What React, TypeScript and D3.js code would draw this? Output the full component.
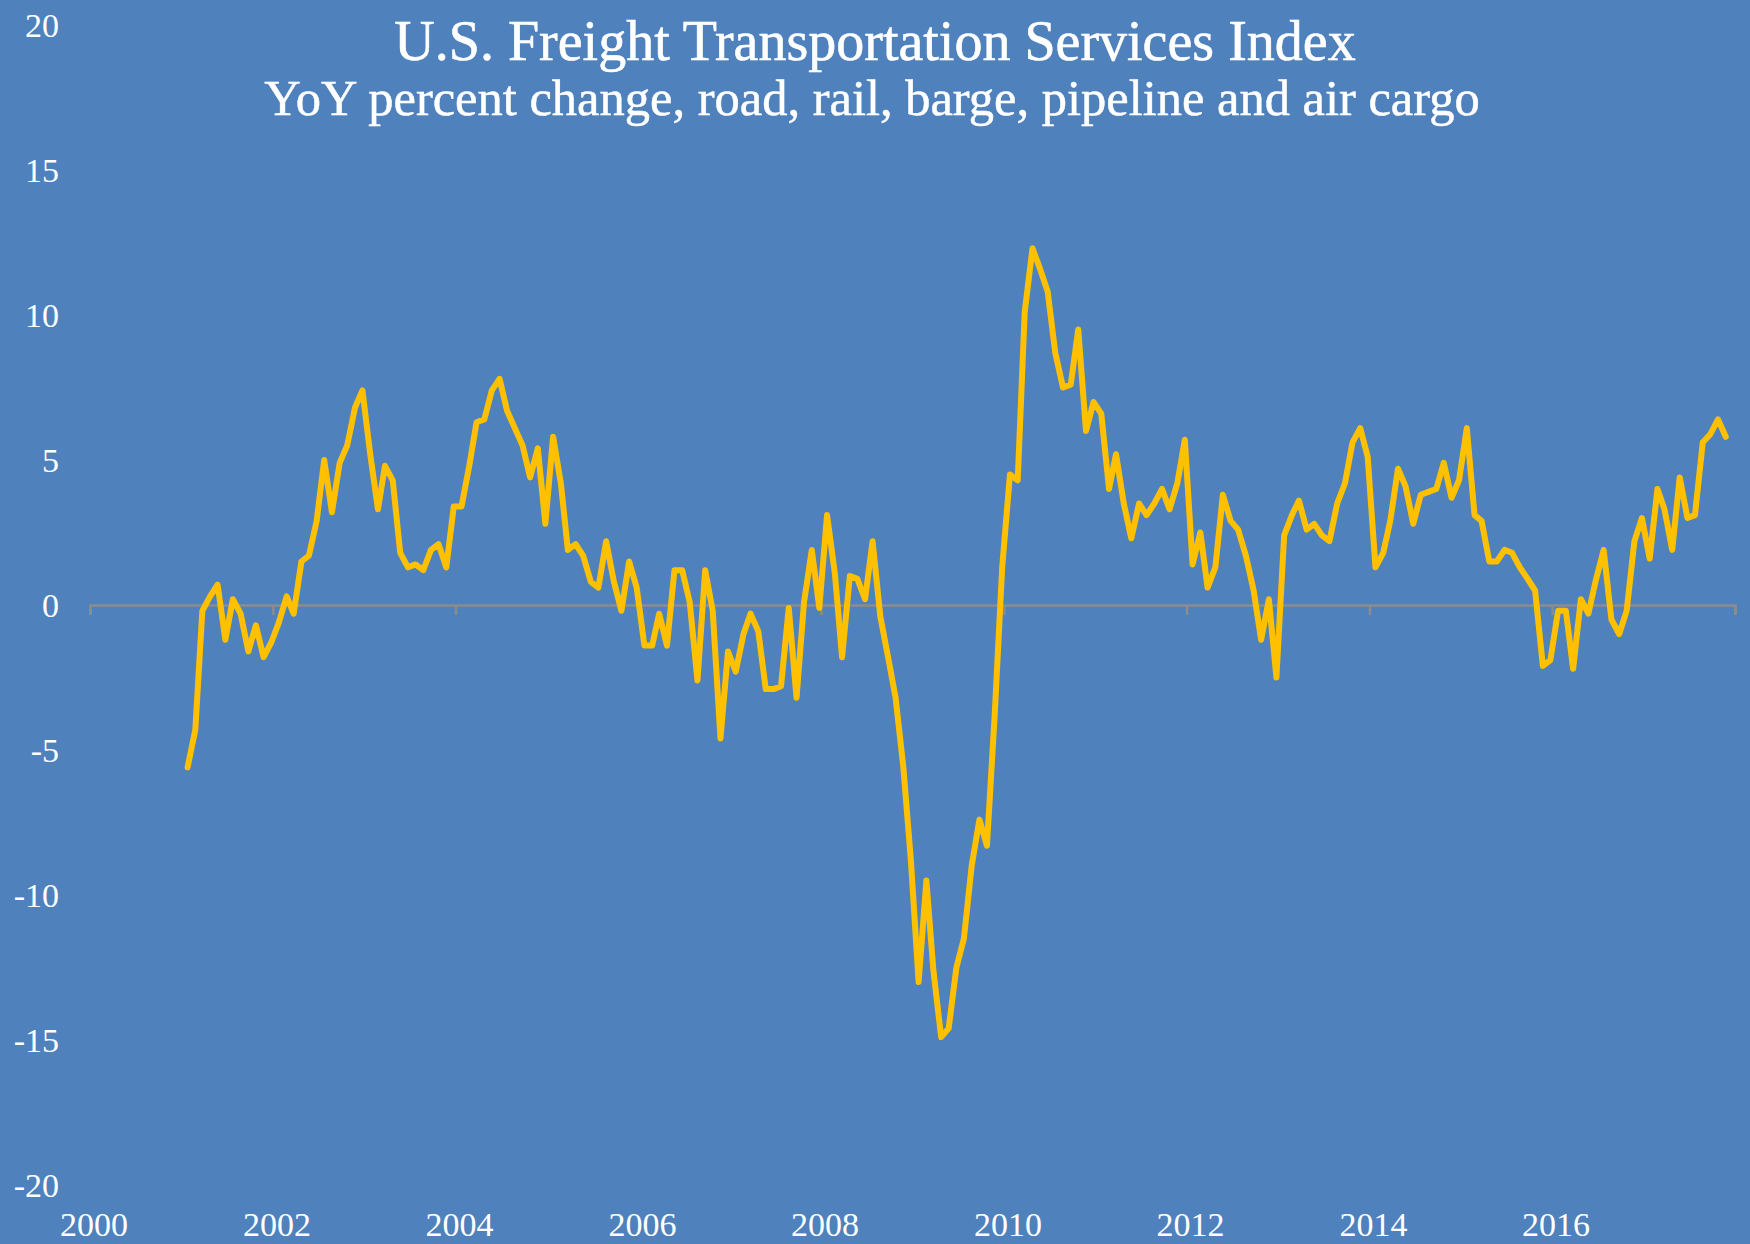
import React, { useEffect, useRef } from 'react';
import * as d3 from 'd3';

// monthly YoY % change, Jan 2001 - Nov 2017
const yoy2001 = [-5.6, -4.3, -0.2, 0.3, 0.7, -1.2, 0.2, -0.3, -1.6, -0.7, -1.8, -1.3];
const yoy2002 = [-0.6, 0.3, -0.3, 1.5, 1.7, 2.9, 5.0, 3.2, 4.9, 5.5, 6.8, 7.4];
const yoy2003 = [5.2, 3.3, 4.8, 4.3, 1.8, 1.3, 1.4, 1.2, 1.9, 2.1, 1.3, 3.4];
const yoy2004 = [3.4, 4.8, 6.3, 6.4, 7.4, 7.8, 6.7, 6.1, 5.5, 4.4, 5.4, 2.8];
const yoy2005 = [5.8, 4.2, 1.9, 2.1, 1.7, 0.8, 0.6, 2.2, 0.8, -0.2, 1.5, 0.6];
const yoy2006 = [-1.4, -1.4, -0.3, -1.4, 1.2, 1.2, 0.1, -2.6, 1.2, -0.2, -4.6, -1.6];
const yoy2007 = [-2.3, -1.0, -0.3, -0.9, -2.9, -2.9, -2.8, -0.1, -3.2, 0.1, 1.9, -0.1];
const yoy2008 = [3.1, 1.1, -1.8, 1.0, 0.9, 0.2, 2.2, -0.4, -1.8, -3.2, -5.6, -8.8];
const yoy2009 = [-13.0, -9.5, -12.6, -14.9, -14.6, -12.5, -11.5, -9.0, -7.4, -8.3, -3.8, 1.3];
const yoy2010 = [4.5, 4.3, 10.1, 12.3, 11.6, 10.8, 8.7, 7.5, 7.6, 9.5, 6.0, 7.0];
const yoy2011 = [6.6, 4.0, 5.2, 3.5, 2.3, 3.5, 3.1, 3.5, 4.0, 3.3, 4.2, 5.7];
const yoy2012 = [1.4, 2.5, 0.6, 1.3, 3.8, 2.9, 2.6, 1.7, 0.5, -1.2, 0.2, -2.5];
const yoy2013 = [2.4, 3.1, 3.6, 2.6, 2.8, 2.4, 2.2, 3.5, 4.2, 5.6, 6.1, 5.1];
const yoy2014 = [1.3, 1.8, 2.9, 4.7, 4.1, 2.8, 3.8, 3.9, 4.0, 4.9, 3.7, 4.3];
const yoy2015 = [6.1, 3.1, 2.9, 1.5, 1.5, 1.9, 1.8, 1.3, 0.9, 0.5, -2.1, -1.9];
const yoy2016 = [-0.2, -0.2, -2.2, 0.2, -0.3, 0.9, 1.9, -0.5, -1.0, -0.2, 2.2, 3.0];
const yoy2017 = [1.6, 4.0, 3.3, 1.9, 4.4, 3.0, 3.1, 5.6, 5.9, 6.4, 5.8];

const dataYears = [2001, 2002, 2003, 2004, 2005, 2006, 2007, 2008, 2009, 2010, 2011, 2012, 2013, 2014, 2015, 2016, 2017];
const yoyByYear = [yoy2001, yoy2002, yoy2003, yoy2004, yoy2005, yoy2006, yoy2007, yoy2008, yoy2009,
  yoy2010, yoy2011, yoy2012, yoy2013, yoy2014, yoy2015, yoy2016, yoy2017];

const xTickYears = [2000, 2002, 2004, 2006, 2008, 2010, 2012, 2014, 2016, 2018];
const xLabelYears = [2000, 2002, 2004, 2006, 2008, 2010, 2012, 2014, 2016];
const yTicks = [-20, -15, -10, -5, 0, 5, 10, 15, 20];

const title = 'U.S. Freight Transportation Services Index';
const subtitle = 'YoY percent change, road, rail, barge, pipeline and air cargo';

const W = 1750;
const H = 1244;
const FONT = "'Liberation Serif', 'Times New Roman', serif";

export default function App() {
  const ref = useRef<SVGSVGElement>(null);

  useEffect(() => {
    const svg = d3.select(ref.current);
    svg.selectAll('*').remove();

    const points: { date: Date; v: number }[] = [];
    dataYears.forEach((yr, k) => {
      yoyByYear[k].forEach((v, m) => points.push({ date: new Date(yr, m, 25), v }));
    });

    const x = d3.scaleTime()
      .domain([new Date(2000, 0, 1), new Date(2018, 0, 1)])
      .range([90, 1735]);
    const y = d3.scaleLinear()
      .domain([-20, 20])
      .range([1185, 25]);

    svg.append('rect')
      .attr('width', W)
      .attr('height', H)
      .attr('fill', '#4F81BD');

    // x axis sits on zero
    const xAxis = d3.axisBottom(x)
      .tickValues(xTickYears.map(yr => new Date(yr, 0, 1)))
      .tickSize(10)
      .tickFormat(() => '');
    const gx = svg.append('g')
      .attr('transform', `translate(0,${y(0)})`)
      .call(xAxis);
    gx.select('.domain').attr('stroke', '#8C8C8C').attr('stroke-width', 2.5);
    gx.selectAll('.tick line').attr('stroke', '#8C8C8C').attr('stroke-width', 2.5);

    svg.append('g')
      .selectAll('text')
      .data(xLabelYears)
      .enter()
      .append('text')
      .attr('x', d => x(new Date(d, 0, 1)) + 4)
      .attr('y', 1236)
      .attr('text-anchor', 'middle')
      .attr('fill', '#fff')
      .attr('font-family', FONT)
      .attr('font-size', 34)
      .text(d => String(d));

    svg.append('g')
      .selectAll('text')
      .data(yTicks)
      .enter()
      .append('text')
      .attr('x', 59)
      .attr('y', d => y(d) + 12)
      .attr('text-anchor', 'end')
      .attr('fill', '#fff')
      .attr('font-family', FONT)
      .attr('font-size', 34)
      .text(d => String(d));

    const line = d3.line<{ date: Date; v: number }>()
      .x(d => x(d.date))
      .y(d => y(d.v));

    svg.append('path')
      .datum(points)
      .attr('d', line)
      .attr('fill', 'none')
      .attr('stroke', '#FFC000')
      .attr('stroke-width', 6)
      .attr('stroke-linejoin', 'round')
      .attr('stroke-linecap', 'round');

    svg.append('text')
      .attr('x', 875)
      .attr('y', 60)
      .attr('text-anchor', 'middle')
      .attr('fill', '#fff')
      .attr('stroke', '#fff')
      .attr('stroke-width', 0.6)
      .attr('font-family', FONT)
      .attr('font-size', 56)
      .text(title);

    svg.append('text')
      .attr('x', 872)
      .attr('y', 115)
      .attr('text-anchor', 'middle')
      .attr('fill', '#fff')
      .attr('stroke', '#fff')
      .attr('stroke-width', 0.5)
      .attr('font-family', FONT)
      .attr('font-size', 50.5)
      .text(subtitle);
  }, []);

  return (
    <div style={{ position: 'absolute', left: 0, top: 0 }}>
      <svg ref={ref} width={W} height={H} style={{ display: 'block' }} />
    </div>
  );
}
